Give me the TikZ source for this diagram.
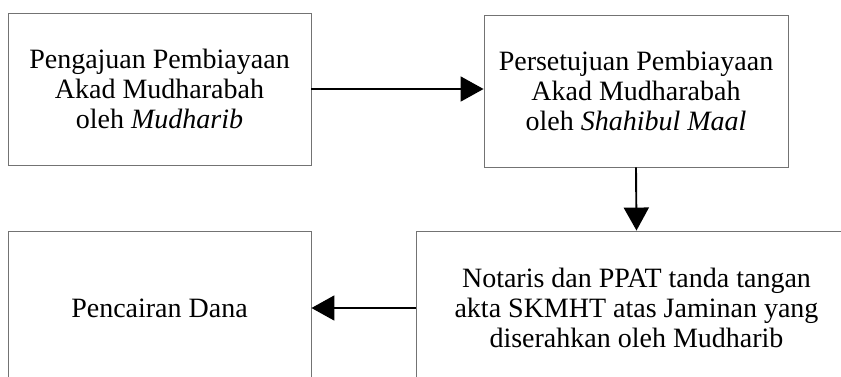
\documentclass[tikz,border=0pt]{standalone}
\usepackage{fontspec}
\setmainfont{Liberation Serif}
\usetikzlibrary{arrows.meta}

\tikzset{
  kotak/.style={draw=black!55, line width=0.9pt, align=center, inner sep=0pt,
    font=\fontsize{28}{30}\selectfont},
  panah/.style={line width=1.9pt, -{Triangle[length=23pt, width=25pt]}}
}

\begin{document}
\begin{tikzpicture}[x=1pt, y=-1pt]

% Batas gambar
\useasboundingbox (0,0) rectangle (841,376);
\clip (0,0) rectangle (841,376);

% Kotak
\node[kotak, minimum width=303pt, minimum height=152pt] (pengajuan) at (159.5,89)
  {Pengajuan Pembiayaan\\Akad Mudharabah\\oleh \textit{Mudharib}};
\node[kotak, minimum width=304pt, minimum height=152pt] (persetujuan) at (636,91)
  {Persetujuan Pembiayaan\\Akad Mudharabah\\oleh \textit{Shahibul Maal}};
\node[kotak, minimum width=441pt, minimum height=154pt] (notaris) at (636.5,308)
  {Notaris dan PPAT tanda tangan\\akta SKMHT atas Jaminan yang\\diserahkan oleh Mudharib};
\node[kotak, minimum width=303pt, minimum height=154pt] (pencairan) at (159.5,308)
  {Pencairan Dana};

% Panah
\draw[panah] (pengajuan.east) -- (pengajuan.east -| persetujuan.west);
\draw[panah] (persetujuan.south) -- (notaris.north);
\draw[panah] (notaris.west) -- (pencairan.east);

\end{tikzpicture}
\end{document}
